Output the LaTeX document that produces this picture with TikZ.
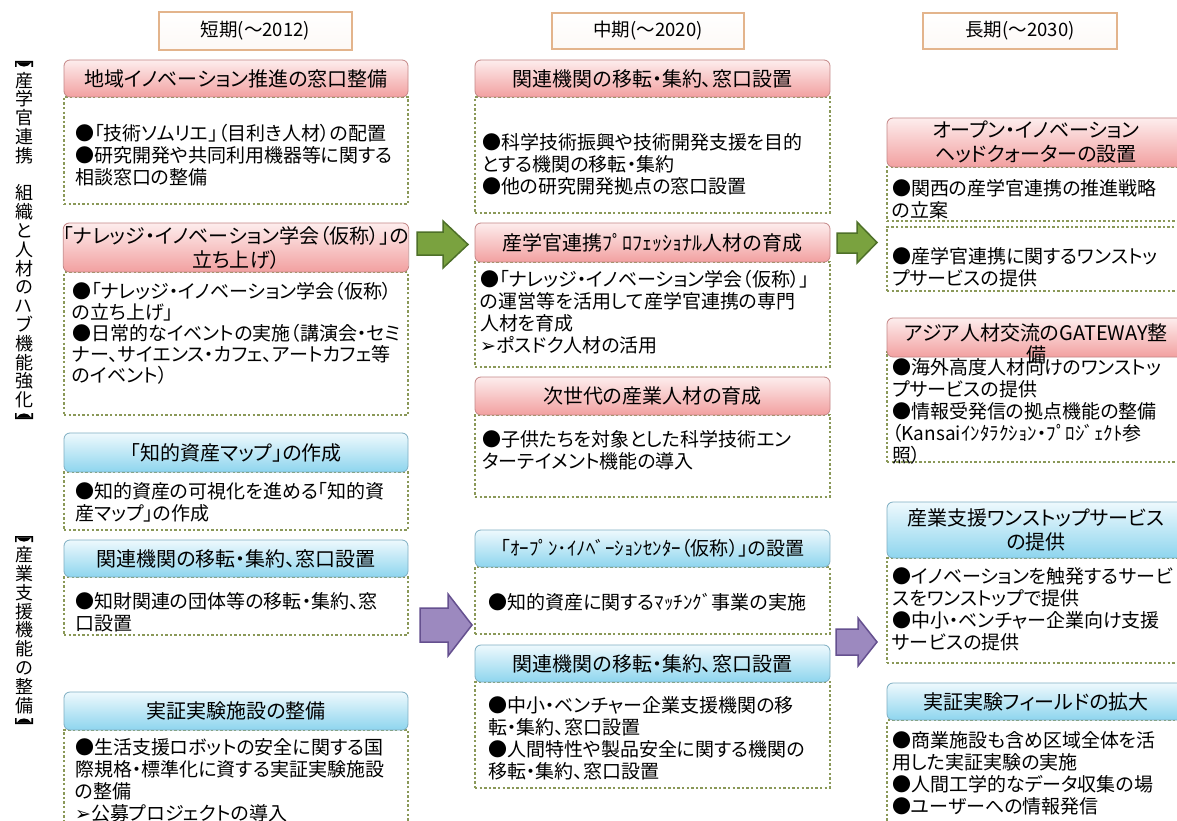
\documentclass[tikz,border=0pt]{standalone}
\usepackage{fontspec}
\setmainfont[RawFeature=+palt]{Noto Sans CJK JP}
\newfontfamily\symfont{DejaVu Sans}
\newcommand\myarr{{\symfont ➢}}
\definecolor{pinkT}{HTML}{FDEDED}
\definecolor{pinkB}{HTML}{F2A0A0}
\definecolor{pinkD}{HTML}{C48686}
\definecolor{blueT}{HTML}{EEF9FD}
\definecolor{blueB}{HTML}{8ED5EE}
\definecolor{blueD}{HTML}{7EAEC2}
\definecolor{dotc}{HTML}{8A9858}
\definecolor{yearc}{HTML}{E3B48C}
\definecolor{greenF}{HTML}{7AA23F}
\definecolor{greenD}{HTML}{4E7029}
\definecolor{purF}{HTML}{9C89BF}
\definecolor{purD}{HTML}{65508F}
\begin{document}
\begin{tikzpicture}[x=1pt,y=-1pt,
  bodybox/.style={draw=dotc, line width=2.4pt, dash pattern=on 2.4pt off 2.2pt, fill=white, inner sep=0pt},
  phead/.style={draw=pinkD, line width=0.8pt, rounded corners=6pt, top color=pinkT, bottom color=pinkB, inner sep=0pt, align=center, font=\fontsize{20}{24}\selectfont},
  bhead/.style={draw=blueD, line width=0.8pt, rounded corners=6pt, top color=blueT, bottom color=blueB, inner sep=0pt, align=center, font=\fontsize{20}{24}\selectfont},
  btext/.style={anchor=west, align=left, inner sep=0pt, font=\fontsize{19}{22}\selectfont},
  yearbox/.style={draw=yearc, line width=1.2pt, top color=white, bottom color=yearc!8, inner sep=0pt, font=\fontsize{18.5}{20}\selectfont},
  vtext/.style={align=center, inner sep=0pt, font=\fontsize{18}{18.8}\selectfont},
  vbrk/.style={fill=black},
  garrow/.style={fill=greenF, draw=greenD, line width=1.5pt, line join=miter},
  parrow/.style={fill=purF, draw=purD, line width=1.5pt, line join=miter},
  lcol/.style={minimum width=344},
  mcol/.style={minimum width=355},
  rcol/.style={minimum width=298}]
\useasboundingbox (0,0) rectangle (1177,821);
\clip (0,0) rectangle (1177,821);
\fill[white] (0,0) rectangle (1177,821);

% year headers
\node[yearbox, minimum width=193, minimum height=38] (ys) at (255.5,31) {短期(～2012)};
\node[yearbox, minimum width=192, minimum height=36] (ym) at (648,31) {中期(～2020)};
\node[yearbox, minimum width=194, minimum height=36] (yl) at (1020,31) {長期(～2030)};

% vertical labels
\node[vtext] (v1) at (24,240) {産\\学\\官\\連\\携\\[18.8pt]組\\織\\と\\人\\材\\の\\ハ\\ブ\\機\\能\\強\\化};
\node[vtext] (v2) at (24,630) {産\\業\\支\\援\\機\\能\\の\\整\\備};
% vertical lenticular brackets
\fill[vbrk] (15,61) rectangle (33,62.6) (15,61) rectangle (16.6,67) (31.4,61) rectangle (33,67);
\fill[vbrk] (17,62.5) .. controls (20,68) and (28,68) .. (31,62.5) -- cycle;
\fill[vbrk] (15,419) rectangle (33,417.4) (15,419) rectangle (16.6,413) (31.4,419) rectangle (33,413);
\fill[vbrk] (17,417.5) .. controls (20,412) and (28,412) .. (31,417.5) -- cycle;
\fill[vbrk] (15,536) rectangle (33,537.6) (15,536) rectangle (16.6,542) (31.4,536) rectangle (33,542);
\fill[vbrk] (17,537.5) .. controls (20,543) and (28,543) .. (31,537.5) -- cycle;
\fill[vbrk] (15,724) rectangle (33,722.4) (15,724) rectangle (16.6,718) (31.4,724) rectangle (33,718);
\fill[vbrk] (17,722.5) .. controls (20,717) and (28,717) .. (31,722.5) -- cycle;

% ---------- left column ----------
\node[bodybox, lcol, minimum height=107] (l1b) at (236,150.5) {};
\node[phead, lcol, minimum height=37] (l1h) at (236,78.5) {地域イノベーション推進の窓口整備};
\node[btext] (l1t) at (75,155) {●「技術ソムリエ」（目利き人材）の配置\\●研究開発や共同利用機器等に関する\\相談窓口の整備};

\node[bodybox, lcol, minimum height=143] (l2b) at (236,343.5) {};
\node[phead, lcol, minimum height=49] (l2h) at (236,247.5) {「ナレッジ・イノベーション学会（仮称）」の\\立ち上げ）};
\node[btext, font=\fontsize{19}{21}\selectfont] (l2t) at (72,333.5) {●「ナレッジ・イノベーション学会（仮称）\\の立ち上げ」\\●日常的なイベントの実施（講演会・セミ\\ナー、サイエンス・カフェ、アートカフェ等\\のイベント）};

\node[bodybox, lcol, minimum height=58] (l3b) at (236,501) {};
\node[bhead, lcol, minimum height=39] (l3h) at (236,452.5) {「知的資産マップ」の作成};
\node[btext] (l3t) at (75,502) {●知的資産の可視化を進める「知的資\\産マップ」の作成};

\node[bodybox, lcol, minimum height=58] (l4b) at (236,606) {};
\node[bhead, lcol, minimum height=37] (l4h) at (236,558.5) {関連機関の移転・集約、窓口設置};
\node[btext] (l4t) at (75,612) {●知財関連の団体等の移転・集約、窓\\口設置};

\node[bodybox, lcol, minimum height=110] (l5b) at (236,785) {};
\node[bhead, lcol, minimum height=38] (l5h) at (236,711) {実証実験施設の整備};
\node[btext] (l5t) at (75,780) {●生活支援ロボットの安全に関する国\\際規格・標準化に資する実証実験施設\\の整備\\\myarr 公募プロジェクトの導入};

% ---------- middle column ----------
\node[bodybox, mcol, minimum height=116] (m1b) at (652.5,155) {};
\node[phead, mcol, minimum height=37] (m1h) at (652.5,78.5) {関連機関の移転・集約、窓口設置};
\node[btext] (m1t) at (482,164) {●科学技術振興や技術開発支援を目的\\とする機関の移転・集約\\●他の研究開発拠点の窓口設置};

\node[bodybox, mcol, minimum height=105] (m2b) at (652.5,314.5) {};
\node[phead, mcol, minimum height=39] (m2h) at (652.5,242.5) {産学官連携ﾌﾟﾛﾌｪｯｼｮﾅﾙ人材の育成};
\node[btext] (m2t) at (480,312.5) {●「ナレッジ・イノベーション学会（仮称）」\\の運営等を活用して産学官連携の専門\\人材を育成\\\myarr ポスドク人材の活用};

\node[bodybox, mcol, minimum height=82] (m3b) at (652.5,456) {};
\node[phead, mcol, minimum height=38] (m3h) at (652.5,396) {次世代の産業人材の育成};
\node[btext] (m3t) at (482,450) {●子供たちを対象とした科学技術エン\\ターテイメント機能の導入};

\node[bodybox, mcol, minimum height=67] (m4b) at (652.5,600.5) {};
\node[bhead, mcol, minimum height=37, font=\fontsize{19}{22}\selectfont] (m4h) at (652.5,548.5) {「ｵｰﾌﾟﾝ･ｲﾉﾍﾞｰｼｮﾝｾﾝﾀｰ（仮称）」の設置};
\node[btext] (m4t) at (488,602) {●知的資産に関するﾏｯﾁﾝｸﾞ事業の実施};

\node[bodybox, mcol, minimum height=106] (m5b) at (652.5,735) {};
\node[bhead, mcol, minimum height=37] (m5h) at (652.5,663.5) {関連機関の移転・集約、窓口設置};
\node[btext] (m5t) at (488,738) {●中小・ベンチャー企業支援機関の移\\転・集約、窓口設置\\●人間特性や製品安全に関する機関の\\移転・集約、窓口設置};

% ---------- right column ----------
\node[bodybox, rcol, minimum height=54] (r1b) at (1036,194) {};
\node[phead, rcol, minimum height=49] (r1h) at (1036,142.5) {オープン・イノベーション\\ヘッドクォーターの設置};
\node[btext] (r1t) at (892,199) {●関西の産学官連携の推進戦略\\の立案};

\node[bodybox, rcol, minimum height=64] (r2b) at (1036,259) {};
\node[btext] (r2t) at (892,267) {●産学官連携に関するワンストッ\\プサービスの提供};

\node[bodybox, rcol, minimum height=110] (r3b) at (1036,407) {};
\node[phead, rcol, minimum height=39] (r3h) at (1036,337.5) {};
\node[align=center, inner sep=0pt, font=\fontsize{20}{22}\selectfont] (r3ht) at (1036,344) {アジア人材交流のGATEWAY整\\備};
\node[btext] (r3t) at (892,411) {●海外高度人材向けのワンストッ\\プサービスの提供\\●情報受発信の拠点機能の整備\\（Kansaiｲﾝﾀﾗｸｼｮﾝ・ﾌﾟﾛｼﾞｪｸﾄ参\\照）};

\node[bodybox, rcol, minimum height=105] (r4b) at (1036,610.5) {};
\node[bhead, rcol, minimum height=56] (r4h) at (1036,530) {産業支援ワンストップサービス\\の提供};
\node[btext] (r4t) at (892,609) {●イノベーションを触発するサービ\\スをワンストップで提供\\●中小・ベンチャー企業向け支援\\サービスの提供};

\node[bodybox, rcol, minimum height=120] (r5b) at (1036,780) {};
\node[bhead, rcol, minimum height=37] (r5h) at (1036,701.5) {実証実験フィールドの拡大};
\node[btext] (r5t) at (892,773) {●商業施設も含め区域全体を活\\用した実証実験の実施\\●人間工学的なデータ収集の場\\●ユーザーへの情報発信};

% ---------- block arrows ----------
\draw[garrow] (417,232) -- (443,232) -- (443,221) -- (468,244.5) -- (443,268) -- (443,255) -- (417,255) -- cycle;
\draw[garrow] (837,233) -- (857,233) -- (857,222) -- (877,242.5) -- (857,263) -- (857,253) -- (837,253) -- cycle;
\draw[parrow] (420,608) -- (448,608) -- (448,594) -- (472,625) -- (448,656) -- (448,642) -- (420,642) -- cycle;
\draw[parrow] (836,629) -- (858,629) -- (858,618) -- (877,642) -- (858,666) -- (858,655) -- (836,655) -- cycle;
\end{tikzpicture}
\end{document}
